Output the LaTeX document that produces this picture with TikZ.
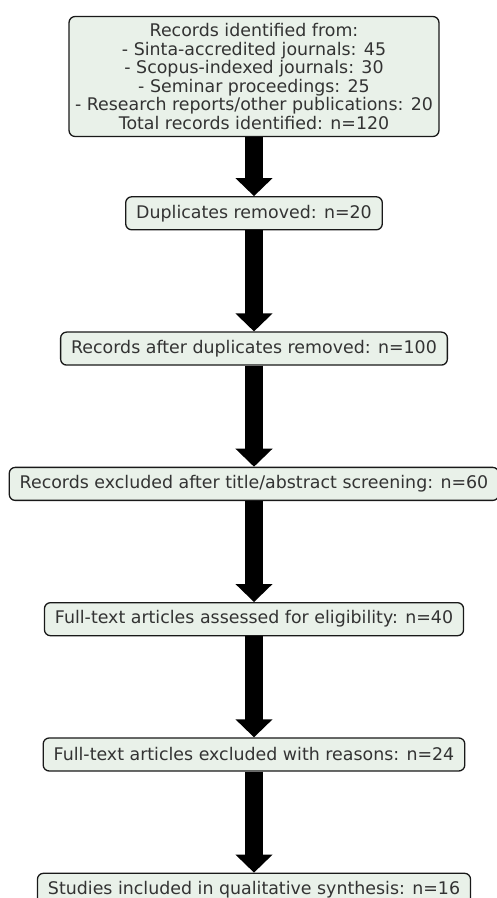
\documentclass[tikz,border=0pt]{standalone}
\usepackage{fontspec}
\setmainfont{DejaVu Sans}
\usepackage{xcolor}
\usepackage{tikz}
\usetikzlibrary{arrows.meta, positioning}
\definecolor{boxfill}{HTML}{E9F1E9}
\definecolor{boxtext}{HTML}{333333}

\begin{document}
\begin{tikzpicture}[
    node distance=101pt,
    stage/.style={rectangle, draw=black!90, fill=boxfill, text=boxtext,
                  line width=1.3pt, rounded corners=6pt, align=center,
                  minimum height=33pt, inner xsep=10.5pt, inner ysep=7pt,
                  font=\fontsize{17.4}{18.5}\selectfont},
    arrow/.style={-{Triangle[length=18pt, width=36pt]}, line width=18pt, black},
  ]
  \useasboundingbox (0,0) rectangle (496pt,-898pt);

  \node[stage, inner xsep=6pt] (identified) at (254pt,-76.5pt) {Records identified from:\\
    - Sinta-accredited journals: 45\\
    - Scopus-indexed journals: 30\\
    - Seminar proceedings: 25\\
    - Research reports/other publications: 20\\
    Total records identified: n=120};
  \node[stage, below=59pt of identified] (duplicates) {Duplicates removed: n=20};
  \node[stage, below=of duplicates] (afterdup) {Records after duplicates removed: n=100};
  \node[stage, below=of afterdup] (screened) {Records excluded after title/abstract screening: n=60};
  \node[stage, below=of screened] (assessed) {Full-text articles assessed for eligibility: n=40};
  \node[stage, below=of assessed] (excluded) {Full-text articles excluded with reasons: n=24};
  \node[stage, below=of excluded] (included) {Studies included in qualitative synthesis: n=16};

  \draw[arrow] (identified) -- (duplicates);
  \draw[arrow] (duplicates) -- (afterdup);
  \draw[arrow] (afterdup) -- (screened);
  \draw[arrow] (screened) -- (assessed);
  \draw[arrow] (assessed) -- (excluded);
  \draw[arrow] (excluded) -- (included);
\end{tikzpicture}
\end{document}
